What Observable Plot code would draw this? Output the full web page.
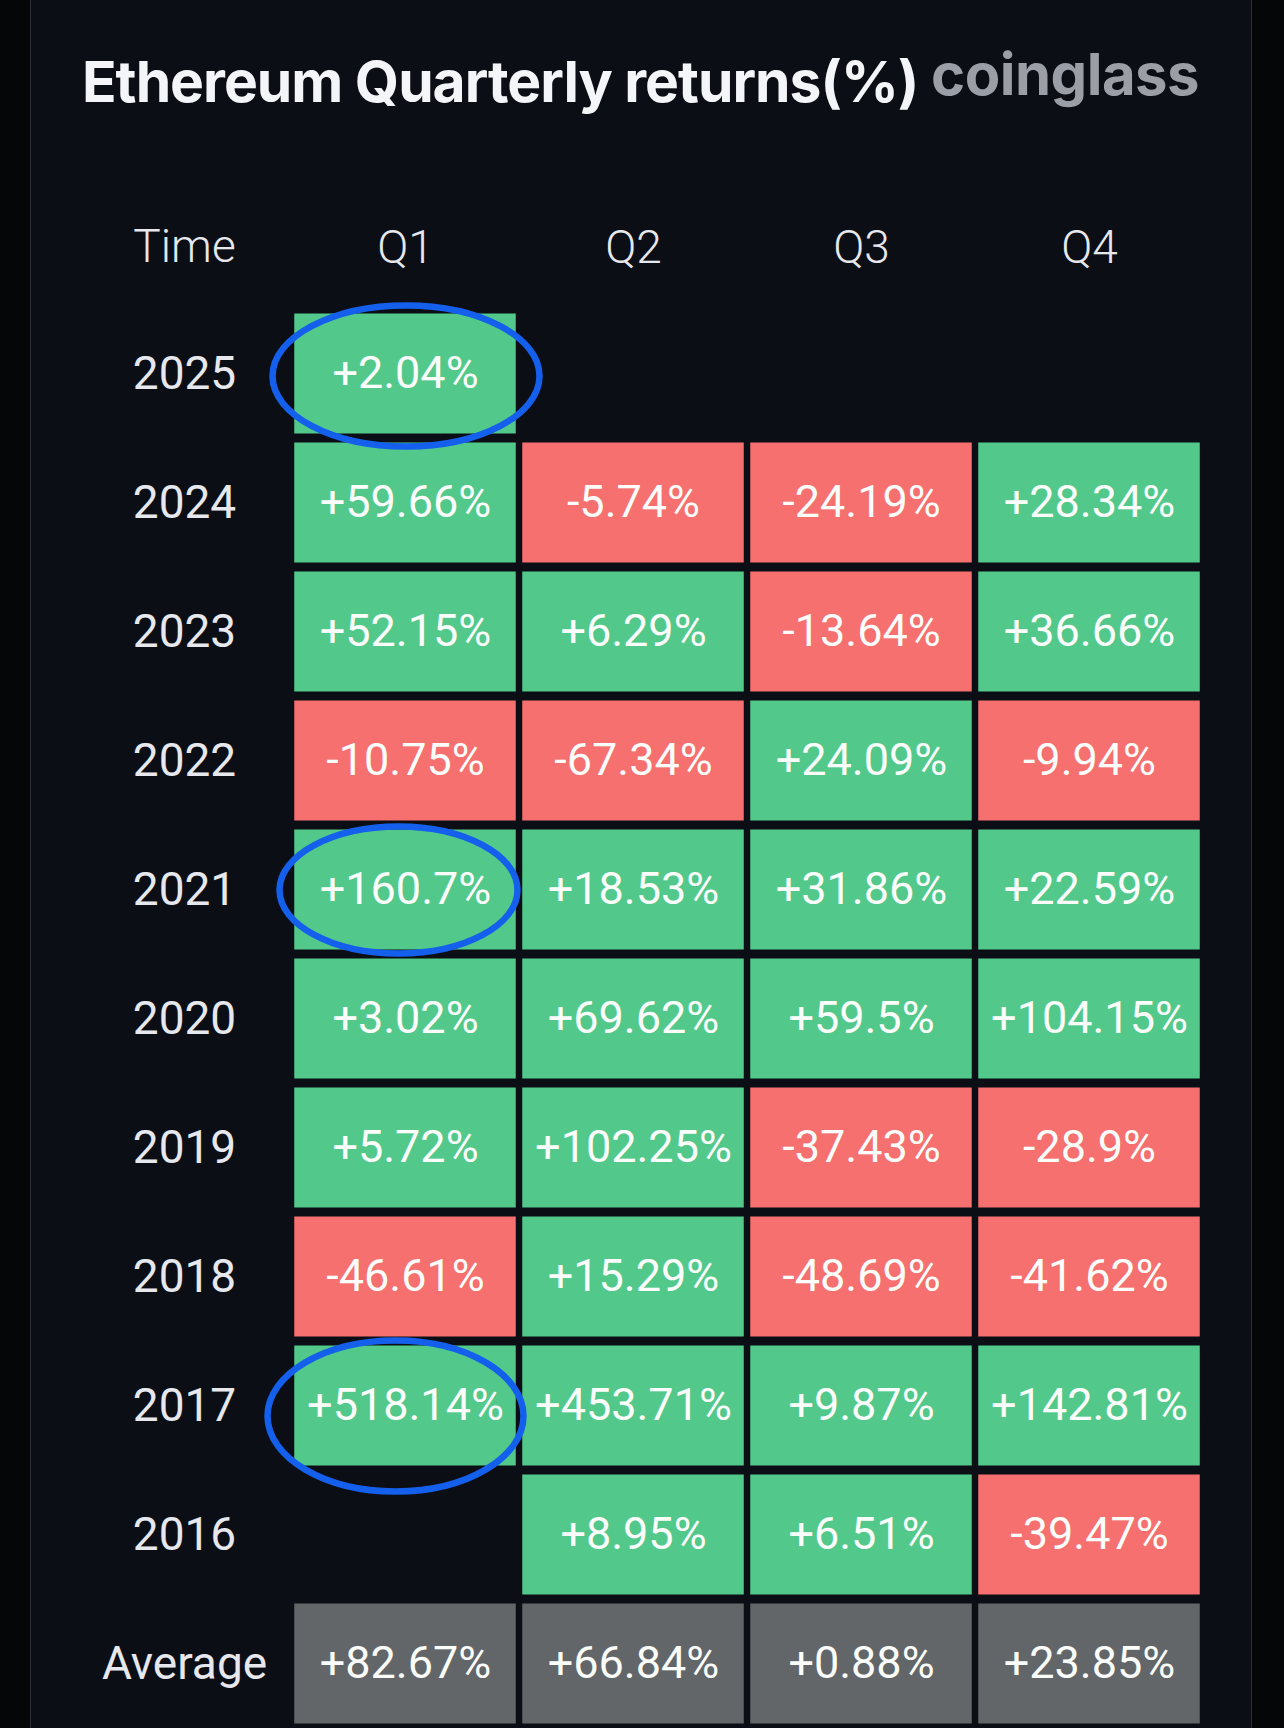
<!DOCTYPE html>
<html>
<head>
<meta charset="utf-8">
<script src="https://cdn.jsdelivr.net/npm/d3@7"></script>
<script src="https://cdn.jsdelivr.net/npm/@observablehq/plot@0.6"></script>
<style>
  html, body { margin: 0; padding: 0; background: #050608; }
  #page { position: relative; width: 1284px; height: 1728px; overflow: hidden; }
  #panel { position: absolute; left: 30px; top: 0; width: 1220px; height: 1728px; background: #0b0e14;
           border-left: 1.5px solid #2a2e36; border-right: 1.5px solid #2a2e36; }
  #header { position: relative; height: 150px; }
  #title { position: absolute; left: 82px; top: 52px; font-family: Inter, "Noto Sans", sans-serif; font-weight: 700;
           font-size: 57px; line-height: 60px; color: #f4f5f8; letter-spacing: -1px; white-space: nowrap; }
  #brand { position: absolute; left: 931px; top: 42px; font-family: Inter, "Noto Sans", sans-serif; font-weight: 700;
           font-size: 58px; line-height: 64px; color: #9a9ea6; letter-spacing: -0.5px; white-space: nowrap; }
  #chart { position: relative; }
</style>
</head>
<body>
<div id="page">
  <div id="panel"></div>
  <div id="header">
    <div id="title">Ethereum Quarterly returns(%)</div>
    <div id="brand">coinglass</div>
  </div>
  <div id="chart"></div>
</div>
<script>
// ---- data ----
const quarters = ["Q1", "Q2", "Q3", "Q4"];
const years = ["2025", "2024", "2023", "2022", "2021", "2020", "2019", "2018", "2017", "2016"];
const q1 = [2.04, 59.66, 52.15, -10.75, 160.7, 3.02, 5.72, -46.61, 518.14, null];
const q2 = [null, -5.74, 6.29, -67.34, 18.53, 69.62, 102.25, 15.29, 453.71, 8.95];
const q3 = [null, -24.19, -13.64, 24.09, 31.86, 59.5, -37.43, -48.69, 9.87, 6.51];
const q4 = [null, 28.34, 36.66, -9.94, 22.59, 104.15, -28.9, -41.62, 142.81, -39.47];
const averageLabel = "Average";
const averages = [82.67, 66.84, 0.88, 23.85];
const timeHeader = "Time";
const highlighted = [
  {year: "2025", q: "Q1"},
  {year: "2021", q: "Q1"},
  {year: "2017", q: "Q1"}
];

// ---- table built from arrays ----
const series = [q1, q2, q3, q4];
const cells = [];
years.forEach((y, i) => {
  quarters.forEach((q, j) => {
    const v = series[j][i];
    if (v != null) cells.push({year: y, q, value: v, kind: v >= 0 ? "up" : "down"});
  });
});
quarters.forEach((q, j) => cells.push({year: averageLabel, q, value: averages[j], kind: "avg"}));
const fmt = v => (v > 0 ? "+" : "") + String(v) + "%";

function ellipseSymbol(rx, ry) {
  const k = 0.5523;
  return {
    draw(ctx) {
      ctx.moveTo(rx, 0);
      ctx.bezierCurveTo(rx, k * ry, k * rx, ry, 0, ry);
      ctx.bezierCurveTo(-k * rx, ry, -rx, k * ry, -rx, 0);
      ctx.bezierCurveTo(-rx, -k * ry, -k * rx, -ry, 0, -ry);
      ctx.bezierCurveTo(k * rx, -ry, rx, -k * ry, rx, 0);
      ctx.closePath();
    }
  };
}
const ellipseStyle = {stroke: "#1460ec", strokeWidth: 6.5, fill: "none"};

const chart = Plot.plot({
  width: 1284,
  height: 1578,
  marginLeft: 291,
  marginRight: 81,
  marginTop: 158.5,
  marginBottom: 0.5,
  style: {background: "transparent", color: "#e6e8ee", fontFamily: "Roboto, sans-serif"},
  x: {domain: quarters, padding: 0},
  y: {domain: [...years, averageLabel], padding: 0},
  color: {domain: ["up", "down", "avg"], range: ["#52c98b", "#f6706f", "#636669"]},
  marks: [
    Plot.cell(cells, {x: "q", y: "year", fill: "kind", insetLeft: 3.25, insetRight: 3.25, insetTop: 4.5, insetBottom: 4.5}),
    Plot.text(cells, {x: "q", y: "year", text: d => fmt(d.value), fill: "#fbfdfb", fontSize: 45, fontWeight: 400}),
    Plot.axisX({anchor: "top", tickSize: 0, tickPadding: 46, fontSize: 46, fontWeight: 300, label: null, fill: "#e6e8ee"}),
    Plot.axisY({anchor: "left", tickSize: 0, tickPadding: 107, textAnchor: "middle", fontSize: 46, fontWeight: 400, label: null, fill: "#e6e8ee"}),
    Plot.text([timeHeader], {frameAnchor: "top-left", text: d => d, dx: -107, dy: -62, fontSize: 46, fontWeight: 300, fill: "#e6e8ee", textAnchor: "middle", lineAnchor: "middle"}),
    Plot.dot(highlighted.filter(d => d.year === "2025"), {x: "q", y: "year", symbol: ellipseSymbol(133.5, 70.5), dx: 0.5, dy: 2, ...ellipseStyle}),
    Plot.dot(highlighted.filter(d => d.year === "2021"), {x: "q", y: "year", symbol: ellipseSymbol(119, 63.5), dx: -7, dy: 0, ...ellipseStyle}),
    Plot.dot(highlighted.filter(d => d.year === "2017"), {x: "q", y: "year", symbol: ellipseSymbol(128, 75.5), dx: -10, dy: 10, ...ellipseStyle})
  ]
});
document.getElementById("chart").appendChild(chart);
</script>
</body>
</html>
